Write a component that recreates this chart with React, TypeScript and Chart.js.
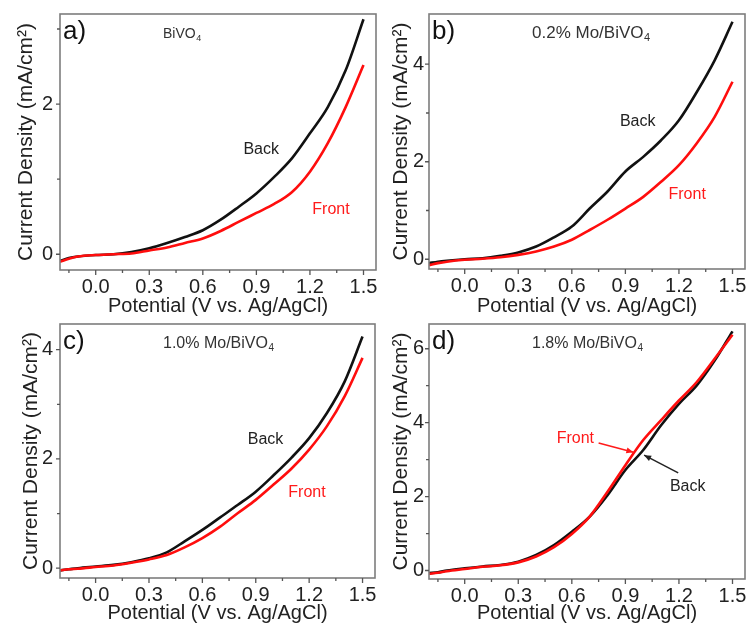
import React, { useEffect, useRef } from 'react';
import { Chart, registerables } from 'chart.js';

Chart.register(...registerables);

// ---------- data ----------
const potential = [-0.2, -0.15, -0.1, 0.0, 0.1, 0.2, 0.3, 0.4, 0.5, 0.6, 0.7, 0.8, 0.9, 1.0, 1.1, 1.2, 1.3, 1.4, 1.5];

const backA = [-0.09, -0.05, -0.03, -0.01, 0.0, 0.03, 0.08, 0.15, 0.23, 0.32, 0.46, 0.63, 0.81, 1.03, 1.28, 1.61, 1.96, 2.45, 3.13];
const frontA = [-0.1, -0.06, -0.03, -0.01, 0.0, 0.01, 0.05, 0.09, 0.15, 0.21, 0.31, 0.43, 0.55, 0.67, 0.83, 1.1, 1.48, 1.96, 2.52];

const backB = [-0.08, -0.05, -0.03, 0.0, 0.02, 0.07, 0.14, 0.26, 0.45, 0.67, 1.04, 1.39, 1.8, 2.1, 2.44, 2.85, 3.43, 4.08, 4.87];
const frontB = [-0.12, -0.08, -0.05, -0.01, 0.01, 0.04, 0.09, 0.16, 0.26, 0.4, 0.6, 0.81, 1.04, 1.28, 1.59, 1.93, 2.38, 2.92, 3.64];

const backC = [-0.04, -0.02, 0.0, 0.03, 0.06, 0.11, 0.18, 0.29, 0.49, 0.7, 0.93, 1.16, 1.4, 1.7, 2.02, 2.38, 2.84, 3.42, 4.24];
const frontC = [-0.04, -0.02, -0.01, 0.02, 0.05, 0.1, 0.16, 0.24, 0.38, 0.55, 0.76, 1.01, 1.25, 1.53, 1.82, 2.17, 2.6, 3.15, 3.85];

const backD = [-0.07, -0.05, 0.0, 0.06, 0.11, 0.15, 0.24, 0.42, 0.69, 1.05, 1.46, 2.04, 2.72, 3.26, 3.93, 4.51, 5.01, 5.68, 6.47];
const frontD = [-0.09, -0.06, -0.02, 0.04, 0.1, 0.14, 0.22, 0.38, 0.63, 0.99, 1.46, 2.13, 2.85, 3.53, 4.07, 4.6, 5.1, 5.73, 6.38];

const xMajorTicks = [0.0, 0.3, 0.6, 0.9, 1.2, 1.5];
const xMinorTicks = [-0.15, 0.15, 0.45, 0.75, 1.05, 1.35];

const yMajorA = [0, 2];
const yMinorA = [1, 3];
const yMajorB = [0, 2, 4];
const yMinorB = [1, 3];
const yMajorC = [0, 2, 4];
const yMinorC = [1, 3];
const yMajorD = [0, 2, 4, 6];
const yMinorD = [1, 3, 5];

const panelLetters = ['a)', 'b)', 'c)', 'd)'];
const sampleNames = ['BiVO', '0.2% Mo/BiVO', '1.0% Mo/BiVO', '1.8% Mo/BiVO'];
const sampleSub = '4';

const xTitle = 'Potential (V vs. Ag/AgCl)';
const yTitle = 'Current Density (mA/cm²)';

// label anchor positions (data coordinates): [x, y]
const backLabelPos = [[0.927, 1.39], [0.969, 2.82], [0.955, 2.35], [1.249, 2.26]];
const frontLabelPos = [[1.318, 0.6], [1.246, 1.32], [1.188, 1.38], [0.62, 3.56]];
// arrows in panel d (data coordinates) [x0, y0, x1, y1]
const frontArrowD = [0.75, 3.45, 0.945, 3.2];
const backArrowD = [1.196, 2.64, 1.005, 3.12];

const FONT = '"Liberation Sans", Arial, sans-serif';

type PanelCfg = {
  idx: number;
  back: number[];
  front: number[];
  yMin: number;
  yMax: number;
  yMajor: number[];
  yMinor: number[];
  left: number;
  top: number;
  w: number;
  h: number;
  padTop: number;
  padRight: number;
  yAxisW: number;
  xAxisH: number;
  yTitleCenter: number;
  yTickPad: number;
  sampleSize: number;
};

const panels: PanelCfg[] = [
  { idx: 0, back: backA, front: frontA, yMin: -0.21, yMax: 3.2, yMajor: yMajorA, yMinor: yMinorA,
    left: 0, top: 0, w: 378, h: 320, padTop: 14, padRight: 2, yAxisW: 60, xAxisH: 50, yTitleCenter: 26, yTickPad: 7, sampleSize: 14 },
  { idx: 1, back: backB, front: frontB, yMin: -0.2, yMax: 5.03, yMajor: yMajorB, yMinor: yMinorB,
    left: 378, top: 0, w: 371, h: 320, padTop: 14, padRight: 4, yAxisW: 51, xAxisH: 51, yTitleCenter: 23, yTickPad: 5, sampleSize: 17 },
  { idx: 2, back: backC, front: frontC, yMin: -0.18, yMax: 4.47, yMajor: yMajorC, yMinor: yMinorC,
    left: 0, top: 320, w: 378, h: 307, padTop: 4, padRight: 3, yAxisW: 60, xAxisH: 49, yTitleCenter: 31, yTickPad: 7, sampleSize: 16 },
  { idx: 3, back: backD, front: frontD, yMin: -0.23, yMax: 6.67, yMajor: yMajorD, yMinor: yMinorD,
    left: 378, top: 320, w: 371, h: 307, padTop: 4, padRight: 4, yAxisW: 51, xAxisH: 48, yTitleCenter: 23, yTickPad: 5, sampleSize: 16 },
];

function drawArrow(ctx: CanvasRenderingContext2D, x0: number, y0: number, x1: number, y1: number, color: string) {
  ctx.save();
  ctx.strokeStyle = color;
  ctx.fillStyle = color;
  ctx.lineWidth = 1.5;
  ctx.beginPath();
  ctx.moveTo(x0, y0);
  ctx.lineTo(x1, y1);
  ctx.stroke();
  const ang = Math.atan2(y1 - y0, x1 - x0);
  const L = 7, W = 3;
  ctx.beginPath();
  ctx.moveTo(x1, y1);
  ctx.lineTo(x1 - L * Math.cos(ang) + W * Math.sin(ang), y1 - L * Math.sin(ang) - W * Math.cos(ang));
  ctx.lineTo(x1 - L * Math.cos(ang) - W * Math.sin(ang), y1 - L * Math.sin(ang) + W * Math.cos(ang));
  ctx.closePath();
  ctx.fill();
  ctx.restore();
}

function Panel({ p }: { p: PanelCfg }) {
  const ref = useRef<HTMLCanvasElement>(null);
  useEffect(() => {
    if (!ref.current) return;
    const decor = {
      id: 'decor',
      afterDraw(chart: any) {
        const { ctx, chartArea: ca } = chart;
        const x = chart.scales.x;
        const y = chart.scales.y;
        ctx.save();
        // frame
        ctx.strokeStyle = '#7d7d7d';
        ctx.lineWidth = 1.6;
        ctx.strokeRect(ca.left, ca.top, ca.right - ca.left, ca.bottom - ca.top);
        // ticks (outward)
        ctx.strokeStyle = '#555';
        ctx.lineWidth = 1.3;
        ctx.beginPath();
        xMajorTicks.forEach((v) => {
          const px = x.getPixelForValue(v);
          ctx.moveTo(px, ca.bottom);
          ctx.lineTo(px, ca.bottom + 5);
        });
        xMinorTicks.forEach((v) => {
          const px = x.getPixelForValue(v);
          ctx.moveTo(px, ca.bottom);
          ctx.lineTo(px, ca.bottom + 3);
        });
        p.yMajor.forEach((v) => {
          const py = y.getPixelForValue(v);
          ctx.moveTo(ca.left, py);
          ctx.lineTo(ca.left - 4, py);
        });
        p.yMinor.forEach((v) => {
          const py = y.getPixelForValue(v);
          ctx.moveTo(ca.left, py);
          ctx.lineTo(ca.left - 3, py);
        });
        ctx.stroke();

        // panel letter
        ctx.fillStyle = '#111';
        ctx.textAlign = 'left';
        ctx.textBaseline = 'alphabetic';
        ctx.font = `26px ${FONT}`;
        ctx.fillText(panelLetters[p.idx], ca.left + 3, ca.top + 25);

        // sample name with subscript
        ctx.fillStyle = '#333';
        ctx.font = `${p.sampleSize}px ${FONT}`;
        const sx = ca.left + 103;
        const sy = ca.top + 24;
        ctx.fillText(sampleNames[p.idx], sx, sy);
        const wMain = ctx.measureText(sampleNames[p.idx]).width;
        ctx.font = `${Math.round(p.sampleSize * 0.62)}px ${FONT}`;
        ctx.fillText(sampleSub, sx + wMain + 0.5, sy + 3);

        // Back / Front labels
        ctx.font = `16px ${FONT}`;
        ctx.textAlign = 'center';
        ctx.textBaseline = 'middle';
        ctx.fillStyle = '#222';
        const bp = backLabelPos[p.idx];
        ctx.fillText('Back', x.getPixelForValue(bp[0]), y.getPixelForValue(bp[1]));
        ctx.fillStyle = '#ff1a1a';
        const fp = frontLabelPos[p.idx];
        ctx.fillText('Front', x.getPixelForValue(fp[0]), y.getPixelForValue(fp[1]));

        if (p.idx === 3) {
          drawArrow(ctx, x.getPixelForValue(frontArrowD[0]), y.getPixelForValue(frontArrowD[1]),
            x.getPixelForValue(frontArrowD[2]), y.getPixelForValue(frontArrowD[3]), '#ff1a1a');
          drawArrow(ctx, x.getPixelForValue(backArrowD[0]), y.getPixelForValue(backArrowD[1]),
            x.getPixelForValue(backArrowD[2]), y.getPixelForValue(backArrowD[3]), '#222');
        }
        ctx.restore();
      },
    };

    const chart = new Chart(ref.current, {
      type: 'line',
      data: {
        datasets: [
          {
            label: 'Front',
            data: potential.map((v, i) => ({ x: v, y: p.front[i] })),
            borderColor: '#ff0d0d',
            borderWidth: 2.6,
            pointRadius: 0,
            cubicInterpolationMode: 'monotone',
          },
          {
            label: 'Back',
            data: potential.map((v, i) => ({ x: v, y: p.back[i] })),
            borderColor: '#111',
            borderWidth: 2.6,
            pointRadius: 0,
            cubicInterpolationMode: 'monotone',
          },
        ],
      },
      options: {
        responsive: false,
        animation: false,
        devicePixelRatio: 1,
        layout: { padding: { top: p.padTop, right: p.padRight, left: 0, bottom: 0 } },
        plugins: { legend: { display: false }, tooltip: { enabled: false } },
        scales: {
          x: {
            type: 'linear',
            min: -0.2,
            max: 1.57,
            afterBuildTicks: (s: any) => {
              s.ticks = xMajorTicks.map((v) => ({ value: v }));
            },
            afterFit: (s: any) => {
              s.height = p.xAxisH;
              s.paddingLeft = 0;
              s.paddingRight = 0;
            },
            grid: { display: false, drawTicks: false },
            border: { display: false },
            ticks: {
              autoSkip: false,
              maxRotation: 0,
              padding: 5,
              color: '#222',
              font: { family: FONT, size: 20 },
              callback: (v: any) => Number(v).toFixed(1),
            },
            title: {
              display: true,
              text: xTitle,
              color: '#222',
              font: { family: FONT, size: 20, lineHeight: 1 },
              padding: { top: 4, bottom: 4 },
            },
          },
          y: {
            type: 'linear',
            min: p.yMin,
            max: p.yMax,
            afterBuildTicks: (s: any) => {
              s.ticks = p.yMajor.map((v) => ({ value: v }));
            },
            afterFit: (s: any) => {
              s.width = p.yAxisW;
              s.paddingTop = 0;
              s.paddingBottom = 0;
            },
            grid: { display: false, drawTicks: false },
            border: { display: false },
            ticks: {
              autoSkip: false,
              padding: p.yTickPad,
              color: '#222',
              font: { family: FONT, size: 20 },
              callback: (v: any) => String(v),
            },
            title: {
              display: true,
              text: yTitle,
              color: '#222',
              font: { family: FONT, size: 21, lineHeight: 1 },
              padding: { top: p.yTitleCenter - 10.5, bottom: p.yTitleCenter - 10.5 },
            },
          },
        },
      } as any,
      plugins: [decor],
    });
    return () => chart.destroy();
  }, [p]);
  return (
    <canvas
      ref={ref}
      width={p.w}
      height={p.h}
      style={{ position: 'absolute', left: p.left, top: p.top, width: p.w, height: p.h }}
    />
  );
}

export default function App() {
  return (
    <div style={{ position: 'absolute', left: 0, top: 0, width: 749, height: 627, background: '#fff', overflow: 'hidden' }}>
      {panels.map((p) => (
        <Panel key={p.idx} p={p} />
      ))}
    </div>
  );
}
